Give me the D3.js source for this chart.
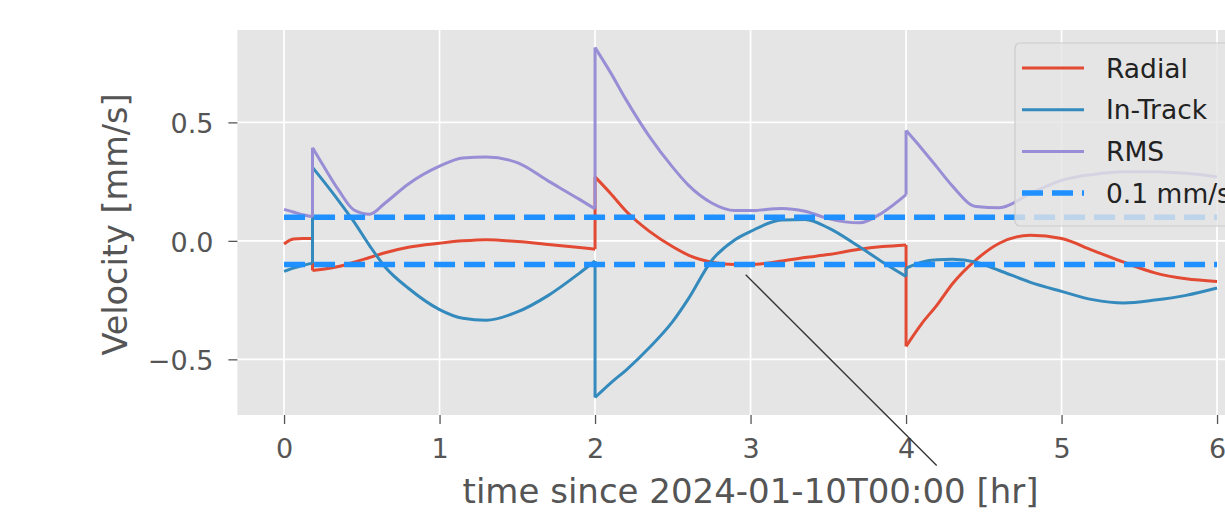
<!DOCTYPE html>
<html>
<head>
<meta charset="utf-8">
<script src="https://cdn.jsdelivr.net/npm/d3@7"></script>
<style>
  body { margin: 0; background: #fff; }
  svg { display: block; font-family: "DejaVu Sans", sans-serif; }
</style>
</head>
<body>
<svg id="chart" width="1225" height="514"></svg>
<script>
// hours since epoch, repeated times mark the maneuver jumps
const time = [0, 0.06, 0.12, 0.183, 0.183, 0.25, 0.35, 0.45, 0.55, 0.65, 0.8, 1.0, 1.15, 1.3, 1.5, 1.7, 1.9, 2.0,
  2.0, 2.1, 2.2, 2.35, 2.5, 2.6, 2.75, 2.9, 3.0, 3.2, 3.35, 3.5, 3.7, 3.85, 4.0,
  4.0, 4.1, 4.2, 4.3, 4.45, 4.6, 4.8, 5.0, 5.2, 5.4, 5.6, 5.8, 6.0];

const radial = [-0.013, 0.008, 0.01, 0.01, -0.125, -0.12, -0.108, -0.09, -0.07, -0.05, -0.027, -0.01, 0.0, 0.005, -0.003, -0.015, -0.028, -0.035,
  0.27, 0.2, 0.125, 0.04, -0.025, -0.06, -0.09, -0.1, -0.1, -0.085, -0.07, -0.058, -0.035, -0.024, -0.017,
  -0.445, -0.35, -0.27, -0.18, -0.08, -0.01, 0.024, 0.01, -0.04, -0.09, -0.135, -0.16, -0.171];

const inTrack = [-0.129, -0.115, -0.104, -0.094, 0.31, 0.255, 0.17, 0.08, -0.02, -0.11, -0.2, -0.29, -0.327, -0.335, -0.3, -0.23, -0.136, -0.085,
  -0.661, -0.6, -0.545, -0.45, -0.34, -0.245, -0.083, 0.005, 0.04, 0.088, 0.09, 0.055, -0.025, -0.09, -0.15,
  -0.115, -0.09, -0.08, -0.078, -0.09, -0.125, -0.175, -0.213, -0.248, -0.262, -0.25, -0.23, -0.199];

const rms = [0.133, 0.122, 0.11, 0.102, 0.393, 0.32, 0.215, 0.13, 0.112, 0.16, 0.24, 0.315, 0.35, 0.354, 0.33, 0.252, 0.175, 0.135,
  0.816, 0.71, 0.595, 0.44, 0.31, 0.235, 0.16, 0.128, 0.128, 0.137, 0.125, 0.094, 0.076, 0.12, 0.195,
  0.466, 0.39, 0.31, 0.23, 0.145, 0.14, 0.2, 0.255, 0.28, 0.292, 0.292, 0.285, 0.27];

const thresholds = [0.1, -0.1];
const thresholdLabel = "0.1 mm/s";

const seriesNames = ["Radial", "In-Track", "RMS"];
const seriesColors = ["#E24A33", "#348ABD", "#988ED5"];

const xTicks = [0, 1, 2, 3, 4, 5, 6];
const yTicks = [-0.5, 0.0, 0.5];

// leftover annotation line (data coords)
const annotation = [[2.969, -0.143], [4.197, -0.948]];

const svg = d3.select("#chart");
const pLeft = 237.4, pRight = 1263.7, pTop = 30, pBottom = 415;

const tExt = d3.extent(time), tPad = (tExt[1] - tExt[0]) * 0.05;
const all = radial.concat(inTrack, rms);
const vExt = d3.extent(all), vPad = (vExt[1] - vExt[0]) * 0.05;

const x = d3.scaleLinear().domain([tExt[0] - tPad, tExt[1] + tPad]).range([pLeft, pRight]);
const y = d3.scaleLinear().domain([vExt[0] - vPad, vExt[1] + vPad]).range([pBottom, pTop]);

svg.append("rect")
  .attr("x", pLeft).attr("y", pTop)
  .attr("width", pRight - pLeft).attr("height", pBottom - pTop)
  .attr("fill", "#E5E5E5");

// grid
svg.append("g").selectAll("line").data(xTicks).enter().append("line")
  .attr("x1", d => x(d)).attr("x2", d => x(d))
  .attr("y1", pTop).attr("y2", pBottom)
  .attr("stroke", "#fff").attr("stroke-width", 1.7);
svg.append("g").selectAll("line").data(yTicks).enter().append("line")
  .attr("x1", pLeft).attr("x2", pRight)
  .attr("y1", d => y(d)).attr("y2", d => y(d))
  .attr("stroke", "#fff").attr("stroke-width", 1.7);

// axes
const xAxis = svg.append("g")
  .attr("transform", "translate(0," + pBottom + ")")
  .call(d3.axisBottom(x).tickValues(xTicks).tickFormat(d3.format("d")).tickSize(9).tickPadding(15));
const yAxis = svg.append("g")
  .attr("transform", "translate(" + pLeft + ",0)")
  .call(d3.axisLeft(y).tickValues(yTicks).tickFormat(d3.format(".1f")).tickSize(9).tickPadding(15));

[xAxis, yAxis].forEach(a => {
  a.select(".domain").remove();
  a.selectAll(".tick line").attr("stroke", "#555").attr("stroke-width", 1.3);
  a.selectAll(".tick text")
    .attr("fill", "#555")
    .style("font-family", "DejaVu Sans")
    .style("font-size", "27px");
});
yAxis.selectAll(".tick text").attr("dy", "0.38em");

const g = svg.append("g");

// split each series at the repeated times so the jumps stay vertical
const breaks = [0];
time.forEach((t, i) => { if (i > 0 && t === time[i - 1]) breaks.push(i); });
breaks.push(time.length);

const line = d3.line()
  .x(d => x(d[0]))
  .y(d => y(d[1]))
  .curve(d3.curveMonotoneX);

[radial, inTrack, rms].forEach((s, k) => {
  const pts = s.map((v, i) => [time[i], v]);
  const segs = [];
  for (let b = 0; b < breaks.length - 1; b++) {
    // include previous point so the vertical jump is drawn
    const seg = pts.slice(breaks[b], breaks[b + 1]);
    segs.push(seg);
    if (b > 0) segs.push([pts[breaks[b] - 1], pts[breaks[b]]]);
  }
  g.selectAll(null).data(segs).enter().append("path")
    .attr("d", line)
    .attr("fill", "none")
    .attr("stroke", seriesColors[k])
    .attr("stroke-width", 3)
    .attr("stroke-linejoin", "round");
});

thresholds.forEach(v => {
  g.append("line")
    .attr("x1", x(tExt[0])).attr("x2", x(tExt[1]))
    .attr("y1", y(v)).attr("y2", y(v))
    .attr("stroke", "#1E90FF")
    .attr("stroke-width", 5.5)
    .attr("stroke-dasharray", "21,9");
});

svg.append("line")
  .attr("x1", x(annotation[0][0])).attr("y1", y(annotation[0][1]))
  .attr("x2", x(annotation[1][0])).attr("y2", y(annotation[1][1]))
  .attr("stroke", "#333").attr("stroke-width", 1.3);

// axis labels
svg.append("text")
  .attr("x", (pLeft + pRight) / 2).attr("y", 503)
  .attr("text-anchor", "middle")
  .attr("fill", "#555")
  .style("font-size", "34px")
  .text("time since 2024-01-10T00:00 [hr]");

svg.append("text")
  .attr("transform", "translate(126.5," + ((pTop + pBottom) / 2 + 2) + ") rotate(-90)")
  .attr("text-anchor", "middle")
  .attr("fill", "#555")
  .style("font-size", "33.5px")
  .text("Velocity [mm/s]");

// legend
const lg = svg.append("g").attr("transform", "translate(1015,43)");
lg.append("rect")
  .attr("width", 260).attr("height", 183)
  .attr("rx", 5)
  .attr("fill", "#E5E5E5").attr("fill-opacity", 0.8)
  .attr("stroke", "#CCCCCC").attr("stroke-width", 1.2);

const items = seriesNames.map((n, i) => ({ name: n, color: seriesColors[i], dash: null, w: 3 }))
  .concat([{ name: thresholdLabel, color: "#1E90FF", dash: "21,9", w: 5.5 }]);

items.forEach((it, i) => {
  const cy = 25 + i * 41.7;
  lg.append("line")
    .attr("x1", 7).attr("x2", 69)
    .attr("y1", cy).attr("y2", cy)
    .attr("stroke", it.color)
    .attr("stroke-width", it.w)
    .attr("stroke-dasharray", it.dash);
  lg.append("text")
    .attr("x", 91).attr("y", cy + 9.5)
    .attr("fill", "#222")
    .style("font-size", "26.5px")
    .text(it.name);
});
</script>
</body>
</html>
